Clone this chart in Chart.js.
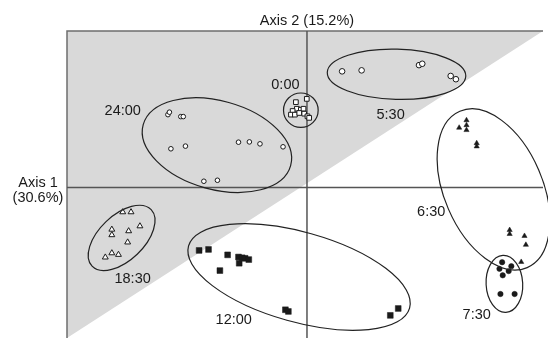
<!DOCTYPE html>
<html>
<head>
<meta charset="utf-8">
<script src="https://cdn.jsdelivr.net/npm/chart.js@4/dist/chart.umd.min.js"></script>
<style>
  body { margin: 0; background: #fff; }
  canvas { display: block; }
</style>
</head>
<body>
<canvas id="pca" width="548" height="343"></canvas>
<script>
// axis titles
const axis1Title = ["Axis 1", "(30.6%)"];
const axis2Title = "Axis 2 (15.2%)";

// scores per sampling time (Axis 1, Axis 2)
const x2400 = [-1.405, -1.39, -1.275, -1.25, -1.375, -1.228, -0.692, -0.582, -0.475, -0.242, -1.042, -0.905];
const y2400 = [0.74, 0.765, 0.72, 0.72, 0.393, 0.42, 0.46, 0.463, 0.443, 0.413, 0.063, 0.073];

const x0000 = [-0.112, -0.002, -0.102, -0.062, -0.035, -0.145, -0.162, -0.122, -0.078, -0.028, 0.005, 0.022];
const y0000 = [0.867, 0.90, 0.80, 0.79, 0.80, 0.777, 0.74, 0.74, 0.757, 0.75, 0.723, 0.707];

const x0530 = [0.355, 0.552, 1.132, 1.165, 1.452, 1.505];
const y0530 = [1.18, 1.19, 1.243, 1.257, 1.133, 1.10];

const x0630 = [1.538, 1.612, 1.612, 1.612, 1.715, 1.715, 2.048, 2.048, 2.198, 2.212, 2.165];
const y0630 = [0.607, 0.683, 0.633, 0.583, 0.45, 0.417, -0.433, -0.473, -0.493, -0.583, -0.757];

const x0730 = [1.972, 1.945, 2.065, 2.038, 1.978, 1.955, 2.098];
const y0730 = [-0.76, -0.827, -0.80, -0.85, -0.893, -1.083, -1.083];

const x1200 = [-1.09, -0.995, -0.802, -0.692, -0.655, -0.625, -0.588, -0.685, -0.88, -0.218, -0.188, 0.842, 0.922];
const y1200 = [-0.64, -0.63, -0.685, -0.707, -0.715, -0.72, -0.733, -0.77, -0.845, -1.243, -1.26, -1.30, -1.23];

const x1830 = [-1.862, -1.778, -1.972, -1.972, -1.802, -1.688, -1.812, -2.038, -1.972, -1.905];
const y1830 = [-0.25, -0.25, -0.427, -0.483, -0.443, -0.393, -0.557, -0.71, -0.667, -0.683];

// group labels and their ellipses (same order)
const groupNames = ["24:00", "0:00", "5:30", "6:30", "7:30", "12:00", "18:30"];
const labelX = [-1.862, -0.218, 0.845, 1.255, 1.715, -0.74, -1.762];
const labelY = [0.775, 1.04, 0.735, -0.25, -1.295, -1.345, -0.935];
const ellCx = [-0.91, -0.062, 0.905, 1.885, 1.995, -0.08, -1.873];
const ellCy = [0.43, 0.785, 1.15, -0.02, -0.98, -0.91, -0.513];
const ellA = [0.773, 0.175, 0.70, 0.86, 0.185, 1.16, 0.413];
const ellB = [0.45, 0.175, 0.255, 0.50, 0.29, 0.457, 0.229];
const ellAngle = [-15.5, 0, -1.5, -66.7, 3, -15.7, 43.7];

const xMin = -2.425, xMax = 2.385, yMin = -1.53, yMax = 1.59;

function pts(xs, ys) {
  return xs.map((v, i) => ({ x: v, y: ys[i] }));
}

const ink = "#1a1a1a";
const font = "14.5px 'Liberation Sans', Arial, sans-serif";

// grey triangle, frame, axes, ellipses, labels
const decor = {
  id: "decor",
  beforeDatasetsDraw(chart) {
    const { ctx, chartArea: a, scales: { x, y } } = chart;
    ctx.save();
    ctx.fillStyle = "#d9d9d9";
    ctx.beginPath();
    ctx.moveTo(a.left, a.top);
    ctx.lineTo(a.right, a.top);
    ctx.lineTo(a.left, a.bottom);
    ctx.closePath();
    ctx.fill();

    ctx.strokeStyle = "#6e6e6e";
    ctx.lineWidth = 1.5;
    ctx.beginPath();
    ctx.moveTo(a.left, a.bottom);
    ctx.lineTo(a.left, a.top);
    ctx.lineTo(a.right, a.top);
    ctx.stroke();

    ctx.strokeStyle = "#555";
    ctx.beginPath();
    const x0 = x.getPixelForValue(0), y0 = y.getPixelForValue(0);
    ctx.moveTo(x0, a.top);
    ctx.lineTo(x0, a.bottom);
    ctx.moveTo(a.left, y0);
    ctx.lineTo(a.right, y0);
    ctx.stroke();
    ctx.restore();
  },
  afterDatasetsDraw(chart) {
    const { ctx, scales: { x, y } } = chart;
    const kx = x.getPixelForValue(1) - x.getPixelForValue(0);
    const ky = y.getPixelForValue(0) - y.getPixelForValue(1);
    ctx.save();
    ctx.strokeStyle = "#222";
    ctx.lineWidth = 1.2;
    groupNames.forEach((g, i) => {
      ctx.beginPath();
      ctx.ellipse(x.getPixelForValue(ellCx[i]), y.getPixelForValue(ellCy[i]),
        ellA[i] * kx, ellB[i] * ky, -ellAngle[i] * Math.PI / 180, 0, Math.PI * 2);
      ctx.stroke();
    });
    ctx.fillStyle = ink;
    ctx.font = font;
    ctx.textAlign = "center";
    ctx.textBaseline = "middle";
    groupNames.forEach((g, i) => {
      ctx.fillText(g, x.getPixelForValue(labelX[i]), y.getPixelForValue(labelY[i]));
    });
    ctx.fillText(axis2Title, x.getPixelForValue(0), 21);
    ctx.fillText(axis1Title[0], 38, 183);
    ctx.fillText(axis1Title[1], 38, 197.5);
    ctx.restore();
  }
};

const openStyle = { backgroundColor: "#fff", borderColor: ink, borderWidth: 1 };
const solidStyle = { backgroundColor: ink, borderColor: ink, borderWidth: 0.5 };

new Chart(document.getElementById("pca"), {
  type: "scatter",
  data: {
    datasets: [
      { label: "24:00", data: pts(x2400, y2400), pointStyle: "circle", pointRadius: 2.3, ...openStyle },
      { label: "0:00", data: pts(x0000, y0000), pointStyle: "rect", pointRadius: 3.3, ...openStyle },
      { label: "5:30", data: pts(x0530, y0530), pointStyle: "circle", pointRadius: 2.8, ...openStyle },
      { label: "6:30", data: pts(x0630, y0630), pointStyle: "triangle", pointRadius: 3, ...solidStyle },
      { label: "7:30", data: pts(x0730, y0730), pointStyle: "circle", pointRadius: 2.7, ...solidStyle },
      { label: "12:00", data: pts(x1200, y1200), pointStyle: "rect", pointRadius: 4.1, ...solidStyle },
      { label: "18:30", data: pts(x1830, y1830), pointStyle: "triangle", pointRadius: 3.4, ...openStyle }
    ]
  },
  options: {
    responsive: false,
    animation: false,
    layout: { padding: { left: 67, top: 31, right: 0, bottom: 0 } },
    scales: {
      x: { type: "linear", min: xMin, max: xMax, display: false },
      y: { type: "linear", min: yMin, max: yMax, display: false }
    },
    plugins: {
      legend: { display: false },
      tooltip: { enabled: false }
    }
  },
  plugins: [decor]
});
</script>
</body>
</html>
